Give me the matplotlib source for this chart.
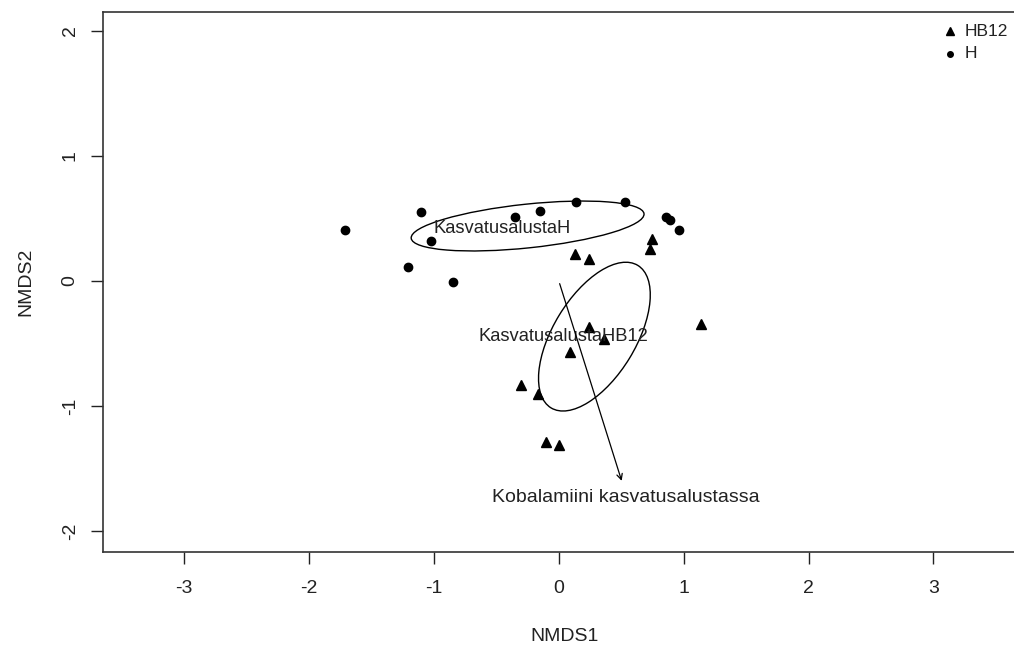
import numpy as np
import matplotlib.pyplot as plt
from matplotlib.patches import Ellipse

plt.rcParams['font.family'] = ['Liberation Sans', 'DejaVu Sans']

# site scores
h_x = [-1.71, -1.10, -1.02, -1.21, -0.85, -0.35, -0.15, 0.14, 0.53, 0.86, 0.89, 0.96]
h_y = [0.41, 0.55, 0.32, 0.11, -0.01, 0.51, 0.56, 0.63, 0.63, 0.51, 0.49, 0.41]
hb_x = [0.75, 0.73, 0.13, 0.24, 1.14, 0.24, 0.36, 0.09, -0.30, -0.17, -0.10, 0.00]
hb_y = [0.34, 0.26, 0.22, 0.18, -0.34, -0.37, -0.46, -0.57, -0.83, -0.90, -1.29, -1.31]

# ellipses: centre x, centre y, width, height, angle
ell_h = (-0.25, 0.44, 1.875, 0.35, 6.0)
ell_hb = (0.285, -0.445, 1.335, 0.66, 58.6)

# environmental vector
vec_end = (0.51, -1.62)
vec_label = 'Kobalamiini kasvatusalustassa'

fig = plt.figure(figsize=(10.14, 6.45), dpi=100)
ax = fig.add_axes([103 / 1014, 93 / 645, 924 / 1014, 540 / 645])

ax.plot(hb_x, hb_y, '^', color='black', ms=7.5, ls='none')
ax.plot(h_x, h_y, 'o', color='black', ms=6, ls='none')

for e in (ell_h, ell_hb):
    ax.add_patch(Ellipse((e[0], e[1]), e[2], e[3], angle=e[4],
                         fill=False, ec='black', lw=1))

ax.text(-0.455, 0.42, 'KasvatusalustaH', ha='center', va='center', fontsize=13.2, color='#222222')
ax.text(0.035, -0.445, 'KasvatusalustaHB12', ha='center', va='center', fontsize=13.2, color='#222222')

ax.annotate('', xy=vec_end, xytext=(0, 0),
            arrowprops=dict(arrowstyle='->', color='black', lw=0.9, mutation_scale=10))
ax.text(0.537, -1.73, vec_label, ha='center', va='center', fontsize=14, color='#222222')

# legend
ax.plot([3.13], [2.0], '^', color='black', ms=5.5)
ax.plot([3.13], [1.82], 'o', color='black', ms=4)
ax.text(3.25, 2.0, 'HB12', va='center', fontsize=12.5, color='#222222')
ax.text(3.25, 1.82, 'H', va='center', fontsize=12.5, color='#222222')

ax.set_xlim(-3.651, 3.75)
ax.set_ylim(-2.168, 2.152)
ax.set_xticks([-3, -2, -1, 0, 1, 2, 3])
ax.set_yticks([-2, -1, 0, 1, 2])
ax.set_xticklabels(['-3', '-2', '-1', '0', '1', '2', '3'])
ax.set_yticklabels(['-2', '-1', '0', '1', '2'], rotation=90, va='center')
ax.tick_params(length=8.5, width=1, labelsize=14, colors='#222222')
ax.tick_params(axis='x', pad=12)
ax.tick_params(axis='y', pad=9)
for s in ax.spines.values():
    s.set_color('#333333')
    s.set_linewidth(1.2)

ax.set_xlabel('NMDS1', fontsize=14, labelpad=22, color='#222222')
ax.set_ylabel('NMDS2', fontsize=14, labelpad=20, color='#222222')

fig.savefig('out.png', dpi=100)
